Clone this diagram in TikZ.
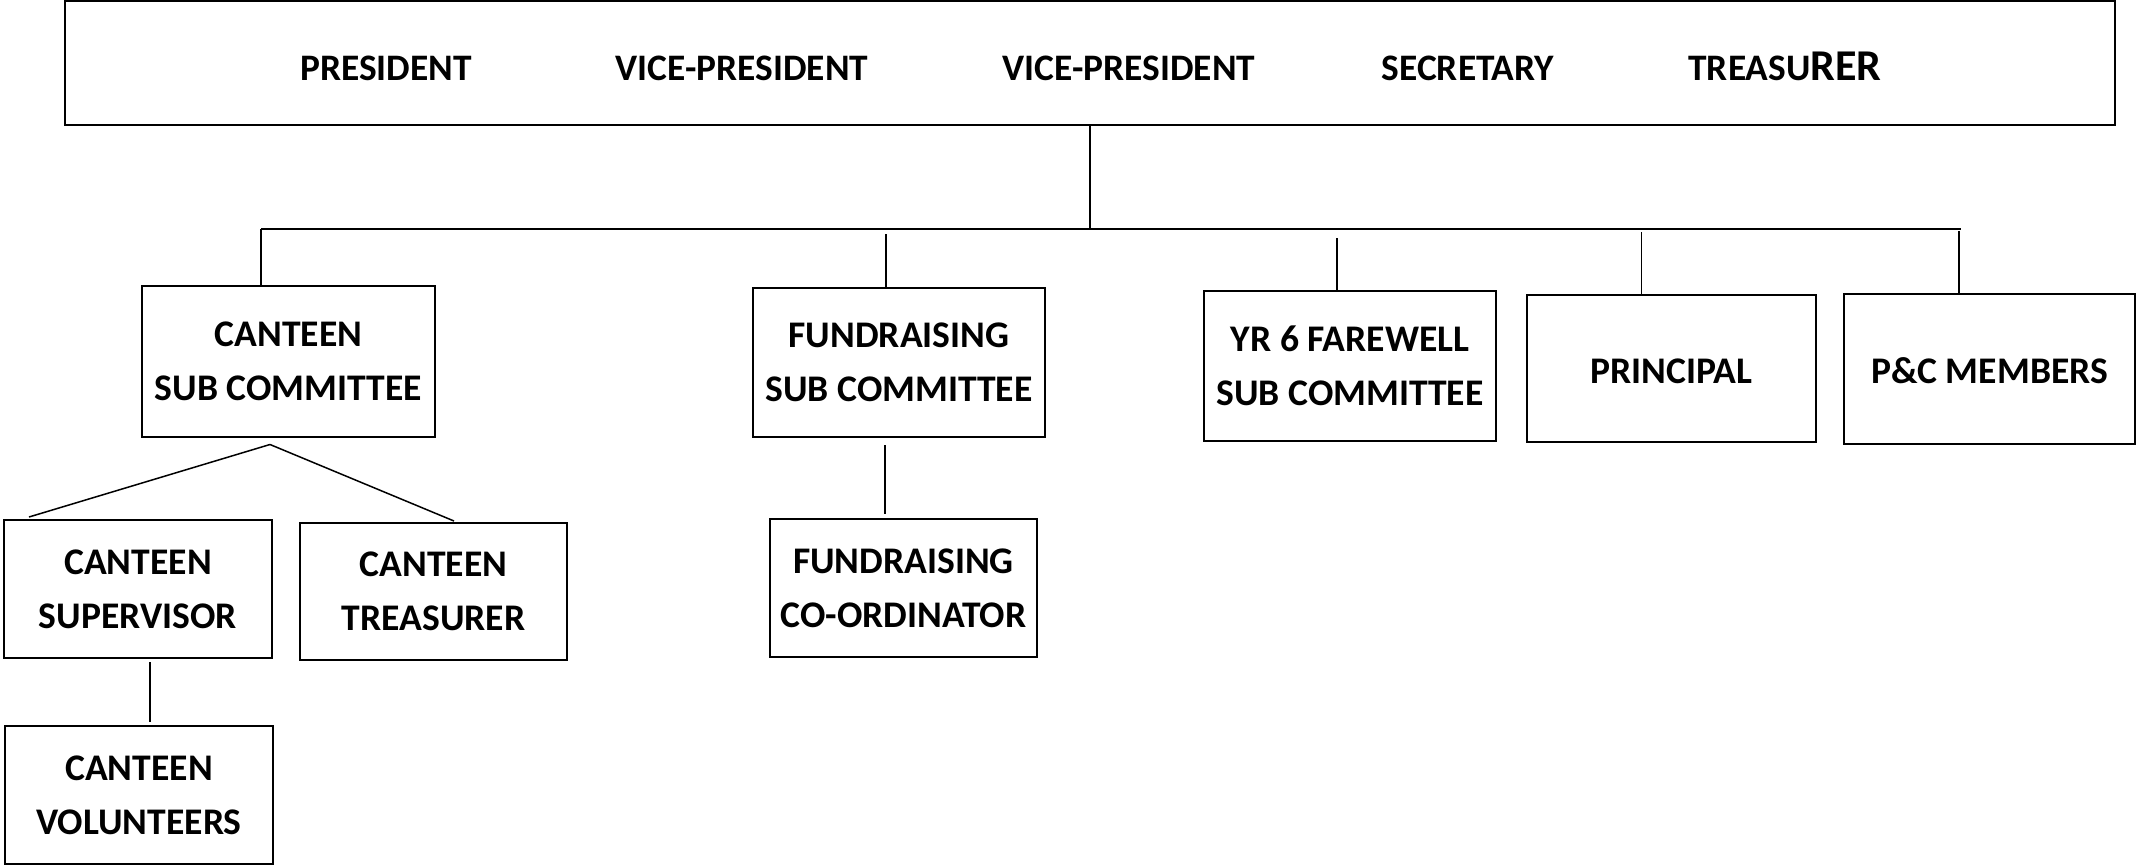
\documentclass[tikz,border=0pt]{standalone}
\usepackage{fontspec}
\setmainfont{Carlito}
\usetikzlibrary{calc}
\begin{document}
\begin{tikzpicture}[x=0.5pt,y=-0.5pt,
  box/.style={draw, line width=1pt, inner sep=0pt, align=center, font=\bfseries\fontsize{18.8}{27}\selectfont, execute at begin node={\rule{0pt}{15pt}}},
  lbl/.style={inner sep=0pt, font=\bfseries\fontsize{18.7}{27}\selectfont},
  conn/.style={line width=0.75pt}]
\useasboundingbox (0,0) rectangle (2136,867);
\fill[white] (0,0) rectangle (2136,867);
% top box
\node[draw, line width=1pt, inner sep=0pt, minimum width=1025pt, minimum height=62pt] (top) at (1090,63) {};
\node[lbl] (pres) at (386,68.5) {PRESIDENT};
\node[lbl] (vp1) at (742,68.5) {VICE-PRESIDENT};
\node[lbl] (vp2) at (1129,68.5) {VICE-PRESIDENT};
\node[lbl] (sec) at (1468,68.5) {SECRETARY};
\node[lbl, anchor=base] (tre) at (1785,80) {TREASU{\fontsize{22}{27}\selectfont RER}};
% second level
\node[box, minimum width=146.5pt, minimum height=75.5pt] (cs) at (288.5,361) {CANTEEN\\SUB COMMITTEE};
\node[box, minimum width=146pt, minimum height=74.5pt] (fs) at (899,362.5) {FUNDRAISING\\SUB COMMITTEE};
\node[box, minimum width=146pt, minimum height=75pt] (yr) at (1350,366) {YR 6 FAREWELL\\SUB COMMITTEE};
\node[box, minimum width=144.5pt, minimum height=73.5pt] (prin) at (1671.5,368.5) {PRINCIPAL};
\node[box, minimum width=145.5pt, minimum height=75pt] (pc) at (1989.5,369) {P\&C MEMBERS};
% third level
\node[box, minimum width=134pt, minimum height=69pt] (csup) at (138,589) {CANTEEN\\SUPERVISOR};
\node[box, minimum width=133.5pt, minimum height=68.5pt] (ctr) at (433.5,591.5) {CANTEEN\\TREASURER};
\node[box, minimum width=133.5pt, minimum height=69pt] (fc) at (903.5,588) {FUNDRAISING\\CO-ORDINATOR};
% fourth level
\node[box, minimum width=134pt, minimum height=69pt] (cvol) at (139,795) {CANTEEN\\VOLUNTEERS};
% connectors
\coordinate (bl) at (261,229);
\coordinate (br) at (1961,229);
\draw[conn] (top.south) -- (top.south |- bl);
\draw[conn] (bl) -- (br);
\draw[conn] (bl) -- (bl |- cs.north);
\draw[conn] ($(fs.north)+(-13,-53)$) -- ($(fs.north)+(-13,0)$);
\draw[conn] ($(yr.north)+(-13,-52)$) -- ($(yr.north)+(-13,0)$);
\draw[conn] ($(prin.north)+(-30,-62)$) -- ($(prin.north)+(-30,0)$);
\draw[conn] ($(pc.north)+(-30.5,-62)$) -- ($(pc.north)+(-30.5,0)$);
\draw[conn] ($(cs.south)+(-18.5,7)$) -- ($(csup.north)+(-109,-2)$);
\draw[conn] ($(cs.south)+(-18.5,7)$) -- ($(ctr.north)+(20.5,-1)$);
\draw[conn] ($(csup.south)+(12,3)$) -- ($(cvol.north)+(11,-3)$);
\draw[conn] ($(fs.south)+(-14,7)$) -- ($(fc.north)+(-18.5,-4)$);
\end{tikzpicture}
\end{document}
